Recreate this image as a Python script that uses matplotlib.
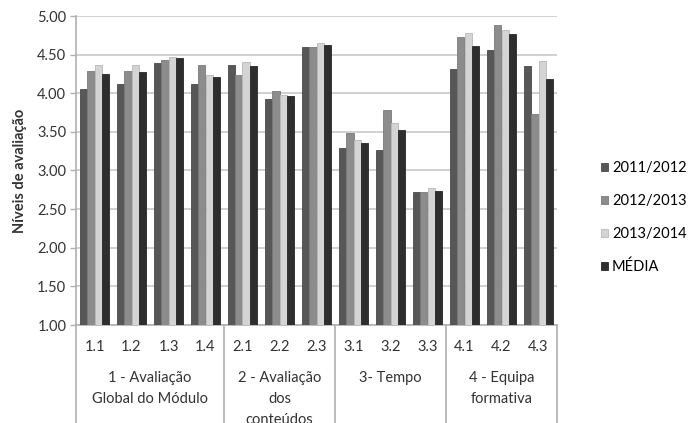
import matplotlib
matplotlib.use("Agg")
import matplotlib.pyplot as plt
from matplotlib.patches import Patch
from matplotlib.transforms import blended_transform_factory
import numpy as np

plt.rcParams['font.family'] = ['Lato', 'DejaVu Sans']

categories = ["1.1", "1.2", "1.3", "1.4", "2.1", "2.2", "2.3", "3.1", "3.2", "3.3", "4.1", "4.2", "4.3"]
groups = ["1 - Avaliação\nGlobal do Módulo", "2 - Avaliação\ndos\nconteúdos", "3- Tempo", "4 - Equipa\nformativa"]
group_sizes = [4, 3, 3, 3]
series_names = ["2011/2012", "2012/2013", "2013/2014", "MÉDIA"]
s2011 = [4.06, 4.12, 4.39, 4.12, 4.37, 3.92, 4.60, 3.29, 3.26, 2.72, 4.31, 4.56, 4.35]
s2012 = [4.29, 4.29, 4.43, 4.37, 4.24, 4.03, 4.60, 3.49, 3.78, 2.72, 4.73, 4.88, 3.73]
s2013 = [4.37, 4.37, 4.47, 4.24, 4.41, 3.98, 4.65, 3.39, 3.61, 2.77, 4.78, 4.82, 4.42]
media = [4.25, 4.27, 4.45, 4.21, 4.35, 3.96, 4.62, 3.36, 3.53, 2.73, 4.61, 4.77, 4.19]
yticks = [1.00, 1.50, 2.00, 2.50, 3.00, 3.50, 4.00, 4.50, 5.00]

colors = ["#575757", "#8c8c8c", "#d4d4d4", "#2e2e2e"]
edges = ["#4a4a4a", "#7a7a7a", "#b8b8b8", "#262626"]
FS = 10.5
TC = "#333333"

fig = plt.figure(figsize=(6.9, 4.23), dpi=100)
ax = fig.add_axes([76/690, 1-325/423, (557-76)/690, (325-16)/423])

x = np.arange(len(categories))
w = 0.19
data = [s2011, s2012, s2013, media]
for i, (vals, c, e) in enumerate(zip(data, colors, edges)):
    ax.bar(x + (i - 1.5) * w, np.array(vals) - 1.0, bottom=1.0, width=w,
           color=c, edgecolor=e, linewidth=0.6, zorder=3)

ax.set_xlim(-0.5, len(categories) - 0.5)
ax.set_ylim(1.0, 5.0)
ax.set_yticks(yticks)
ax.set_yticklabels([f"{v:.2f}" for v in yticks], fontsize=FS, color=TC)
ax.yaxis.grid(True, color="#c8c8c8", linewidth=1.2, zorder=0)
ax.set_axisbelow(True)
ax.tick_params(axis='y', length=4, color="#b0b0b0", width=1, pad=3)
ax.set_xticks([])
for s in ["top", "right"]:
    ax.spines[s].set_visible(False)
ax.spines["left"].set_color("#b0b0b0")
ax.spines["left"].set_linewidth(1.2)
ax.spines["bottom"].set_color("#b0b0b0")
ax.spines["bottom"].set_linewidth(1.2)
ax.set_ylabel("Níveis de avaliação", fontsize=FS, fontweight='bold', color=TC, labelpad=7)

trans = blended_transform_factory(ax.transData, ax.transAxes)
for xi, c in zip(x, categories):
    ax.text(xi, -0.071, c, transform=trans, ha='center', va='center', fontsize=FS, color=TC)

start = -0.5
bounds = [start]
for gname, gs in zip(groups, group_sizes):
    center = start + gs / 2
    ax.text(center, -0.150, gname, transform=trans, ha='center', va='top', fontsize=FS,
            color=TC, linespacing=1.6)
    start += gs
    bounds.append(start)
for b in bounds:
    ax.plot([b, b], [0, -0.33], transform=trans, color="#b0b0b0", linewidth=1.2, clip_on=False)

handles = [Patch(facecolor=c, edgecolor=e, linewidth=0.6) for c, e in zip(colors, edges)]
fig.legend(handles, series_names, loc='upper left', bbox_to_anchor=(601/690, 1-161/423),
           frameon=False, fontsize=FS, handlelength=0.5, handleheight=0.5,
           handletextpad=0.25, labelspacing=1.3, borderaxespad=0, borderpad=0)

fig.savefig("out.png", dpi=100)
